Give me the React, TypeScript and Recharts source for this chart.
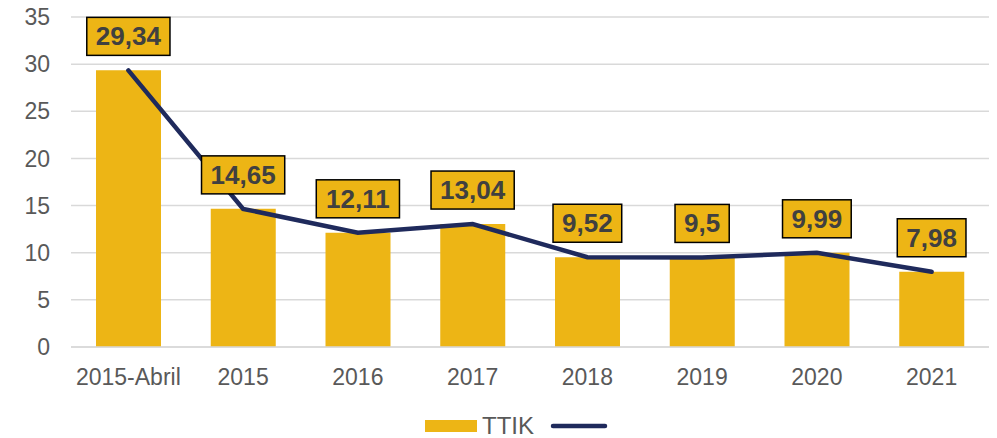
import { ComposedChart, Bar, Line, XAxis, YAxis, CartesianGrid, Legend } from 'recharts'

const categories = ['2015-Abril', '2015', '2016', '2017', '2018', '2019', '2020', '2021']
const ttik = [29.34, 14.65, 12.11, 13.04, 9.52, 9.5, 9.99, 7.98]
const yTicks = [0, 5, 10, 15, 20, 25, 30, 35]

const data = categories.map((name, i) => ({ name, ttik: ttik[i] }))

const GOLD = '#EDB515'
const NAVY = '#1F2A5C'
const FONT = '"Liberation Sans", Arial, sans-serif'

// rough text width for the bold 26px label font
function textWidth(s: string) {
  let w = 0
  for (const ch of s) w += ch === ',' ? 7.2 : 14.5
  return w
}

function ValueLabel(props: any) {
  const { x, y, value } = props
  if (x == null || y == null) return null
  const text = String(value).replace('.', ',')
  const w = textWidth(text) + 18
  const h = 38
  const bottom = y - 15
  return (
    <g>
      <rect x={x - w / 2} y={bottom - h} width={w} height={h} fill={GOLD} stroke="#000" strokeWidth={1.5} />
      <text
        x={x}
        y={bottom - h / 2}
        textAnchor="middle"
        dominantBaseline="central"
        fontFamily={FONT}
        fontWeight="bold"
        fontSize={26}
        fill="#404040"
      >
        {text}
      </text>
    </g>
  )
}

function LegendContent() {
  return (
    <div
      style={{
        height: 35,
        paddingTop: 10,
        paddingLeft: 44,
        boxSizing: 'border-box',
        display: 'flex',
        justifyContent: 'center',
        alignItems: 'center',
        fontFamily: FONT,
        fontSize: 24,
        lineHeight: 1,
        color: '#595959',
      }}
    >
      <span style={{ display: 'inline-block', width: 52, height: 12, background: GOLD, marginRight: 5 }}></span>
      <span style={{ marginRight: 16 }}>TTIK</span>
      <svg width={58} height={6}>
        <line x1={3} y1={3} x2={55} y2={3} stroke={NAVY} strokeWidth={4.5} strokeLinecap="round" />
      </svg>
    </div>
  )
}

export default function App() {
  return (
    <div style={{ position: 'absolute', left: 0, top: 0, background: '#fff' }}>
      <ComposedChart width={997} height={438} data={data} margin={{ top: 17, right: 8, bottom: 0, left: 0 }}>
        <CartesianGrid vertical={false} stroke="#d9d9d9" strokeWidth={1.5} />
        <XAxis
          dataKey="name"
          axisLine={{ stroke: '#d9d9d9', strokeWidth: 1.5 }}
          tickLine={false}
          tickSize={0}
          tickMargin={22}
          height={56}
          interval={0}
          tick={{ fill: '#595959', fontSize: 23, fontFamily: FONT }}
        />
        <YAxis
          domain={[0, 35]}
          ticks={yTicks}
          width={71}
          axisLine={false}
          tickLine={false}
          tickSize={0}
          tickMargin={21}
          tick={{ fill: '#595959', fontSize: 23, fontFamily: FONT }}
        />
        <Legend verticalAlign="bottom" content={<LegendContent />} />
        <Bar dataKey="ttik" name="TTIK" fill={GOLD} barSize={65} isAnimationActive={false} />
        <Line
          dataKey="ttik"
          type="linear"
          stroke={NAVY}
          strokeWidth={4.5}
          strokeLinecap="round"
          dot={false}
          activeDot={false}
          legendType="none"
          isAnimationActive={false}
          label={<ValueLabel />}
        />
      </ComposedChart>
    </div>
  )
}
